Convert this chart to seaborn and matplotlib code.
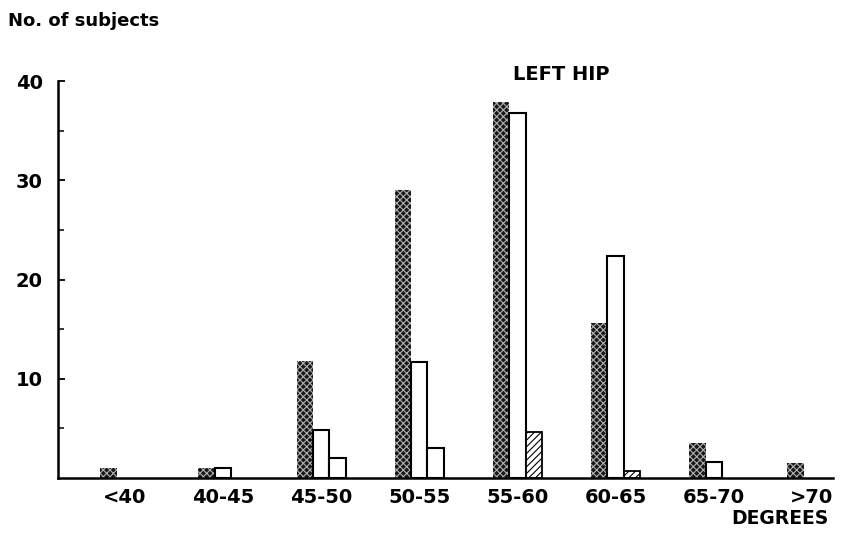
"""
plot.py
- Left hip angle distribution, grouped bars (three subject groups).
"""
import numpy as np
import pandas as pd
import seaborn as sns
import matplotlib.pyplot as plt

categories = ["<40", "40-45", "45-50", "50-55", "55-60", "60-65", "65-70", ">70"]
group_dark = [1, 1, 11.8, 29, 37.9, 15.6, 3.5, 1.5]
group_open = [np.nan, 1, 4.8, 11.7, 36.8, 22.4, 1.6, np.nan]
group_hatched = [np.nan, np.nan, 2, 3, 4.6, 0.7, np.nan, np.nan]
series_names = ["dark", "open", "hatched"]


def main():
    df = pd.DataFrame({
        "degrees": categories * 3,
        "count": group_dark + group_open + group_hatched,
        "group": [n for n in series_names for _ in categories],
    })

    sns.set_style("white")
    plt.rcParams["font.family"] = ["DejaVu Sans"]
    plt.rcParams["hatch.linewidth"] = 0.8
    for k in ["text.color", "xtick.color", "ytick.color", "axes.edgecolor", "axes.labelcolor"]:
        plt.rcParams[k] = "black"

    fig = plt.figure(figsize=(8.41, 5.37), dpi=100)
    ax = fig.add_axes([0.069, 0.110, 0.921, 0.739])

    sns.barplot(data=df, x="degrees", y="count", hue="group", order=categories,
                hue_order=series_names, width=0.5, legend=False, ax=ax,
                palette=["#222222", "white", "white"], saturation=1)

    n = len(categories)
    for i, bar in enumerate(ax.patches[:3 * n]):
        kind = series_names[i // n]
        if kind == "dark":
            bar.set_facecolor("#181818")
            bar.set_edgecolor("#b0b0b0")
            bar.set_hatch("xxxxx")
            bar.set_linewidth(0)
        elif kind == "open":
            bar.set_facecolor("white")
            bar.set_edgecolor("black")
            bar.set_linewidth(1.5)
        else:
            bar.set_facecolor("white")
            bar.set_edgecolor("black")
            bar.set_hatch("/////")
            bar.set_linewidth(1.3)

    ax.set_xlim(-0.68, 7.21)
    ax.set_ylim(0, 40)
    ax.set_yticks([10, 20, 30, 40])
    ax.set_yticks([5, 15, 25, 35], minor=True)
    ax.tick_params(axis="y", which="major", direction="in", length=5, width=1.3,
                   left=True, pad=11, labelsize=14)
    ax.tick_params(axis="y", which="minor", direction="in", length=4, width=1.1, left=True)
    ax.tick_params(axis="x", length=0, pad=7, labelsize=14)
    for lab in ax.get_xticklabels() + ax.get_yticklabels():
        lab.set_fontweight("bold")

    sns.despine(ax=ax)
    ax.spines["left"].set_linewidth(1.8)
    ax.spines["bottom"].set_linewidth(1.8)
    ax.set_xlabel("")
    ax.set_ylabel("")

    fig.text(0.009, 0.961, "No. of subjects", fontsize=13, fontweight="bold", va="center")
    fig.text(0.667, 0.862, "LEFT HIP", fontsize=14, fontweight="bold", ha="center", va="center")
    fig.text(0.985, 0.035, "DEGREES", fontsize=13.5, fontweight="bold", ha="right", va="center")

    fig.savefig("out.png", dpi=100)


if __name__ == "__main__":
    main()
